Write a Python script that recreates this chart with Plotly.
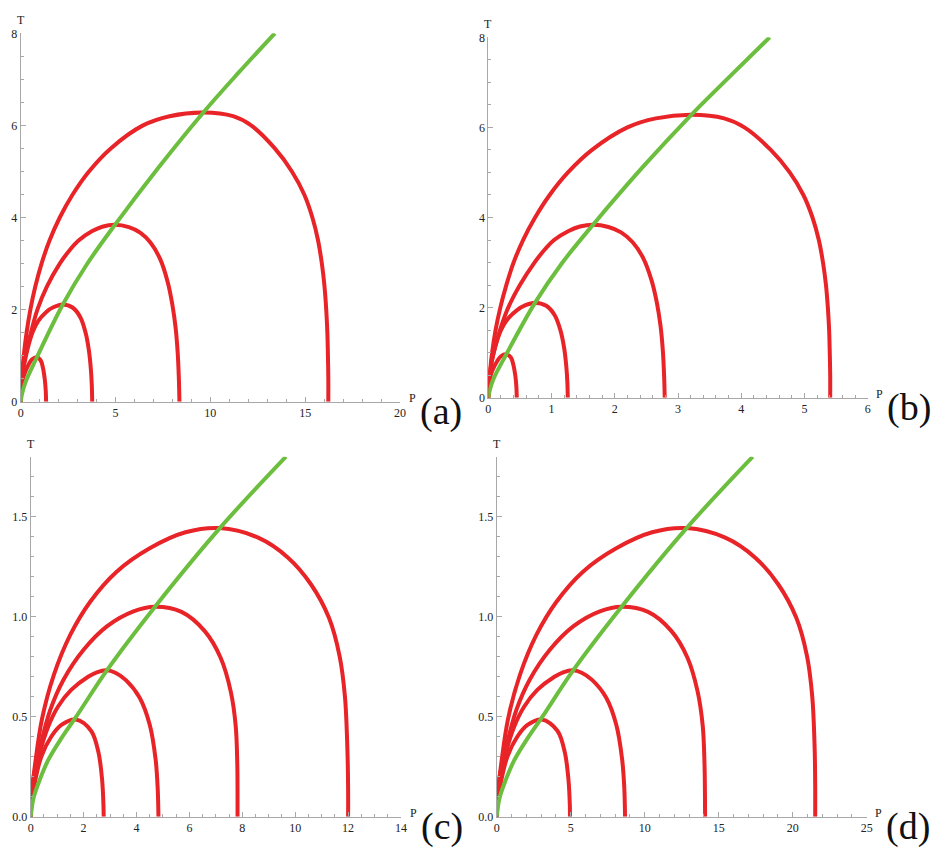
import plotly.graph_objects as go

W, H = 945, 858
RED = "rgb(232,36,40)"
GREEN = "rgb(108,190,62)"
AXC = "#a8a8a8"
FONT = "Liberation Serif, Times New Roman, DejaVu Serif, serif"

# ---------------- panel (a) ----------------
a1_P = [0, 0.02, 0.10, 0.22, 0.42, 0.60, 0.84, 1.05, 1.18, 1.27, 1.32, 1.34]
a1_T = [0, 0.22, 0.47, 0.63, 0.81, 0.92, 0.965, 0.90, 0.72, 0.48, 0.24, 0]
a2_P = [0, 0.02, 0.06, 0.28, 0.62, 0.92, 1.35, 1.72, 2.22, 2.75, 3.15, 3.42, 3.60, 3.70, 3.75, 3.77]
a2_T = [0, 0.30, 0.50, 1.00, 1.50, 1.75, 1.95, 2.05, 2.11, 2.04, 1.83, 1.50, 1.10, 0.70, 0.35, 0]
a3_P = [0, 0.06, 0.25, 0.54, 0.88, 1.38, 2.06, 2.60, 3.05, 3.75, 4.30, 4.97,
        5.70, 6.30, 6.85, 7.35, 7.75, 8.00, 8.17, 8.28, 8.34, 8.37]
a3_T = [0, 0.50, 1.00, 1.50, 2.00, 2.50, 3.00, 3.30, 3.50, 3.70, 3.80, 3.84,
        3.79, 3.67, 3.45, 3.10, 2.60, 2.10, 1.60, 1.05, 0.50, 0]
a4_P = [0, 0.05, 0.16, 0.31, 0.51, 0.77, 1.10, 1.52, 2.06, 2.74, 3.60, 4.75, 6.45, 7.85, 9.63,
        11.20, 12.15, 13.40, 14.30, 14.95, 15.38, 15.68, 15.88, 16.02, 16.11, 16.17, 16.20, 16.22, 16.22]
a4_T = [0, 0.50, 1.00, 1.50, 2.00, 2.50, 3.00, 3.50, 4.00, 4.50, 5.00, 5.50, 6.00, 6.20, 6.28,
        6.20, 6.00, 5.50, 5.00, 4.50, 4.00, 3.50, 3.00, 2.50, 2.00, 1.50, 1.00, 0.50, 0]
a_green_P = [0, 0.06, 0.25, 0.85, 2.22, 3.50, 4.97, 7.30, 9.63, 11.50, 13.40]
a_green_T = [0, 0.15, 0.42, 0.96, 2.11, 2.99, 3.84, 5.10, 6.28, 7.15, 8.00]

# ---------------- panel (b) ----------------
b1_P = [0, 0.007, 0.033, 0.073, 0.14, 0.20, 0.28, 0.355, 0.398, 0.428, 0.444, 0.45]
b1_T = [0, 0.22, 0.47, 0.63, 0.81, 0.92, 0.965, 0.90, 0.72, 0.48, 0.24, 0]
b2_P = [0, 0.007, 0.02, 0.085, 0.20, 0.31, 0.46, 0.58, 0.74, 0.917, 1.05, 1.14, 1.20, 1.233, 1.25, 1.257]
b2_T = [0, 0.30, 0.50, 1.00, 1.50, 1.75, 1.95, 2.05, 2.11, 2.04, 1.83, 1.50, 1.10, 0.70, 0.35, 0]
b3_P = [0, 0.02, 0.085, 0.185, 0.315, 0.50, 0.73, 0.90, 1.04, 1.27, 1.45, 1.66,
        1.90, 2.10, 2.283, 2.45, 2.583, 2.667, 2.723, 2.76, 2.78, 2.79]
b3_T = [0, 0.50, 1.00, 1.50, 2.00, 2.50, 3.00, 3.30, 3.50, 3.70, 3.80, 3.84,
        3.79, 3.67, 3.45, 3.10, 2.60, 2.10, 1.60, 1.05, 0.50, 0]
b4_P = [0, 0.02, 0.06, 0.115, 0.19, 0.285, 0.40, 0.55, 0.74, 0.97, 1.26, 1.64, 2.20, 2.65, 3.21,
        3.73, 4.05, 4.467, 4.767, 4.983, 5.127, 5.227, 5.293, 5.34, 5.37, 5.39, 5.40, 5.407, 5.407]
b4_T = [0, 0.50, 1.00, 1.50, 2.00, 2.50, 3.00, 3.50, 4.00, 4.50, 5.00, 5.50, 6.00, 6.20, 6.28,
        6.20, 6.00, 5.50, 5.00, 4.50, 4.00, 3.50, 3.00, 2.50, 2.00, 1.50, 1.00, 0.50, 0]
b_green_P = [0, 0.02, 0.083, 0.283, 0.74, 1.167, 1.657, 2.43, 3.21, 3.833, 4.45]
b_green_T = [0, 0.15, 0.42, 0.96, 2.11, 2.99, 3.84, 5.10, 6.28, 7.15, 8.00]

# ---------------- panel (c) ----------------
c1_P = [0, 0.04, 0.15, 0.40, 0.78, 1.16, 1.70, 2.28, 2.56, 2.70, 2.75, 2.76]
c1_T = [0, 0.07, 0.167, 0.30, 0.401, 0.459, 0.486, 0.43, 0.323, 0.184, 0.06, 0]
c2_P = [0, 0.03, 0.13, 0.34, 0.66, 1.03, 1.54, 2.17, 2.50, 2.86, 3.20, 3.60, 4.12, 4.50, 4.72, 4.80, 4.83]
c2_T = [0, 0.08, 0.18, 0.317, 0.45, 0.55, 0.635, 0.70, 0.722, 0.732, 0.72, 0.683, 0.595, 0.46, 0.29, 0.145, 0]
c3_P = [0, 0.02, 0.10, 0.36, 0.74, 1.24, 2.00, 2.88, 3.885, 4.70,
        5.70, 6.58, 7.18, 7.56, 7.75, 7.81, 7.82, 7.82]
c3_T = [0, 0.07, 0.19, 0.351, 0.534, 0.685, 0.835, 0.952, 1.027, 1.05,
        1.024, 0.928, 0.795, 0.628, 0.455, 0.267, 0.12, 0]
c4_P = [0, 0.03, 0.17, 0.43, 0.87, 1.50, 2.25, 3.25, 4.50, 5.85, 7.15,
        8.60, 9.73, 10.60, 11.28, 11.68, 11.88, 11.97, 12.00, 12.00]
c4_T = [0, 0.10, 0.267, 0.49, 0.707, 0.91, 1.075, 1.225, 1.342, 1.422, 1.443,
        1.395, 1.295, 1.161, 0.993, 0.802, 0.601, 0.351, 0.15, 0]
c_green_P = [0, 0.10, 0.30, 0.65, 1.15, 1.72, 2.86, 4.70, 7.15, 9.65]
c_green_T = [0, 0.09, 0.17, 0.28, 0.39, 0.50, 0.728, 1.05, 1.443, 1.80]

# ---------------- panel (d) ----------------
d1_P = [0, 0.07, 0.27, 0.72, 1.40, 2.08, 3.05, 4.10, 4.60, 4.85, 4.94, 4.95]
d1_T = [0, 0.07, 0.167, 0.30, 0.401, 0.459, 0.486, 0.43, 0.323, 0.184, 0.06, 0]
d2_P = [0, 0.05, 0.23, 0.61, 1.18, 1.85, 2.76, 3.90, 4.49, 5.13, 5.74, 6.46, 7.40, 8.08, 8.47, 8.62, 8.67]
d2_T = [0, 0.08, 0.18, 0.317, 0.45, 0.55, 0.635, 0.70, 0.722, 0.732, 0.72, 0.683, 0.595, 0.46, 0.29, 0.145, 0]
d3_P = [0, 0.04, 0.18, 0.65, 1.33, 2.23, 3.59, 5.17, 6.97, 8.44,
        10.23, 11.81, 12.89, 13.57, 13.92, 14.04, 14.07, 14.08]
d3_T = [0, 0.07, 0.19, 0.351, 0.534, 0.685, 0.835, 0.952, 1.027, 1.05,
        1.024, 0.928, 0.795, 0.628, 0.455, 0.267, 0.12, 0]
d4_P = [0, 0.05, 0.31, 0.77, 1.56, 2.69, 4.04, 5.83, 8.08, 10.50, 12.83,
        15.44, 17.47, 19.03, 20.25, 20.97, 21.32, 21.48, 21.52, 21.52]
d4_T = [0, 0.10, 0.267, 0.49, 0.707, 0.91, 1.075, 1.225, 1.342, 1.422, 1.443,
        1.395, 1.295, 1.161, 0.993, 0.802, 0.601, 0.351, 0.15, 0]
d_green_P = [0, 0.18, 0.54, 1.17, 2.07, 3.09, 5.13, 8.44, 12.83, 17.30]
d_green_T = [0, 0.09, 0.17, 0.28, 0.39, 0.50, 0.728, 1.05, 1.443, 1.80]

# axis specs
x_ranges = [[0, 20], [0, 6], [0, 14], [0, 25]]
y_ranges = [[0, 8], [0, 8], [0, 1.8], [0, 1.8]]
x_dticks = [5, 1, 2, 5]
x_minor = [1, 0.2, 0.5, 1]
y_dticks = [2, 2, 0.5, 0.5]
y_minor = [0.5, 0.5, 0.1, 0.1]
y_formats = ["d", "d", ".1f", ".1f"]
labels = ["(a)", "(b)", "(c)", "(d)"]

# pixel boxes of plotting areas: left, top, right, bottom
boxes = [(20.7, 33.3, 400.0, 401.7),
         (488.3, 37.3, 867.7, 397.7),
         (30.7, 456.7, 401.0, 816.7),
         (496.7, 456.7, 866.7, 816.7)]

reds = [
    [(a1_P, a1_T), (a2_P, a2_T), (a3_P, a3_T), (a4_P, a4_T)],
    [(b1_P, b1_T), (b2_P, b2_T), (b3_P, b3_T), (b4_P, b4_T)],
    [(c1_P, c1_T), (c2_P, c2_T), (c3_P, c3_T), (c4_P, c4_T)],
    [(d1_P, d1_T), (d2_P, d2_T), (d3_P, d3_T), (d4_P, d4_T)],
]
greens = [(a_green_P, a_green_T), (b_green_P, b_green_T),
          (c_green_P, c_green_T), (d_green_P, d_green_T)]

fig = go.Figure()
annotations = []
layout = dict(
    width=W, height=H, margin=dict(l=0, r=0, t=0, b=0, pad=0, autoexpand=False),
    paper_bgcolor="white", plot_bgcolor="white", showlegend=False,
    font=dict(family=FONT, size=12, color="#222"),
)

for i in range(4):
    sfx = "" if i == 0 else str(i + 1)
    xa, ya = "x" + sfx, "y" + sfx
    for P, T in reds[i]:
        fig.add_trace(go.Scatter(x=P, y=T, mode="lines", xaxis=xa, yaxis=ya,
                                 line=dict(color=RED, width=4, shape="spline", smoothing=1.0),
                                 hoverinfo="skip"))
    gP, gT = greens[i]
    fig.add_trace(go.Scatter(x=gP, y=gT, mode="lines", xaxis=xa, yaxis=ya,
                             line=dict(color=GREEN, width=4, shape="spline", smoothing=1.0),
                             hoverinfo="skip"))
    l, t, r, b = boxes[i]
    common = dict(showgrid=False, zeroline=False, showline=True, linecolor=AXC, linewidth=1,
                  ticks="inside", tickcolor=AXC, ticklen=5, tickwidth=1, automargin=False,
                  tickfont=dict(family=FONT, size=12, color="#222"))
    layout["xaxis" + sfx] = dict(domain=[l / W, r / W], range=x_ranges[i], anchor=ya,
                                 tick0=0, dtick=x_dticks[i],
                                 minor=dict(dtick=x_minor[i], ticks="inside", ticklen=3,
                                            tickcolor=AXC, tick0=0),
                                 **common)
    layout["yaxis" + sfx] = dict(domain=[1 - b / H, 1 - t / H], range=y_ranges[i], anchor=xa,
                                 tick0=0, dtick=y_dticks[i], tickformat=y_formats[i],
                                 minor=dict(dtick=y_minor[i], ticks="inside", ticklen=3,
                                            tickcolor=AXC, tick0=0),
                                 **common)
    annotations.append(dict(text="T", xref=xa, yref=ya, x=0, y=y_ranges[i][1],
                            yshift=13, showarrow=False, xanchor="center", yanchor="middle",
                            font=dict(family=FONT, size=12, color="#222")))
    annotations.append(dict(text="P", xref=xa, yref=ya, x=x_ranges[i][1], y=0,
                            xshift=12, yshift=4, showarrow=False, xanchor="center", yanchor="middle",
                            font=dict(family=FONT, size=12, color="#222")))
    annotations.append(dict(text=labels[i], xref=xa, yref=ya, x=x_ranges[i][1], y=0,
                            xshift=41, yshift=-10, showarrow=False, xanchor="center", yanchor="middle",
                            font=dict(family=FONT, size=38, color="#111")))

layout["annotations"] = annotations
fig.update_layout(**layout)
fig.write_html("out.html", config={"displayModeBar": False},
               post_script="document.body.style.margin='0px';document.body.style.overflow='hidden';")
